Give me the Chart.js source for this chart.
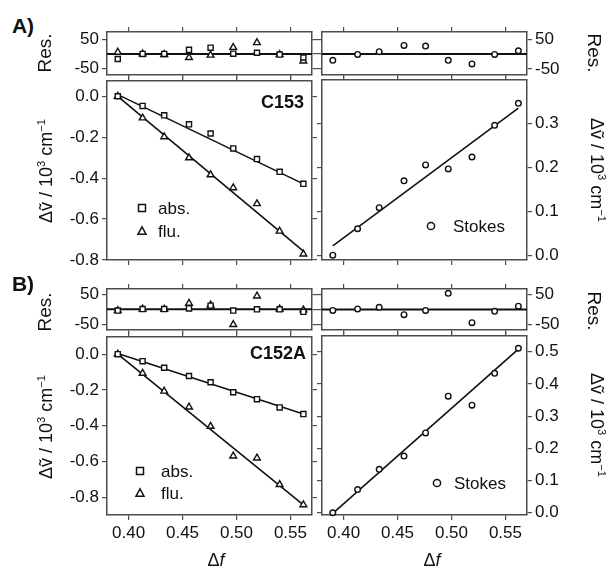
<!DOCTYPE html>
<html><head><meta charset="utf-8">
<script src="https://cdn.jsdelivr.net/npm/chart.js@4/dist/chart.umd.min.js"></script>
<style>
body{margin:0;background:#fff;}
#fig{position:relative;width:609px;height:568px;overflow:hidden;font-family:"Liberation Sans",Arial,Helvetica,sans-serif;color:#111;background:#fff;}
#fig canvas{position:absolute;}
.lbl{position:absolute;white-space:nowrap;line-height:1;}
.lbl sup{font-size:0.62em;vertical-align:0.6em;line-height:0;}
.mk{position:absolute;overflow:visible;}
</style></head>
<body><div id="fig"></div>
<script>
// ---------------- data ----------------
const deltaF = [0.390, 0.413, 0.433, 0.456, 0.476, 0.497, 0.519, 0.540, 0.562];

// Panel A (C153), 10^3 cm^-1
const absA    = [0.000, -0.047, -0.093, -0.137, -0.182, -0.255, -0.307, -0.369, -0.428];
const fluA    = [0.000, -0.106, -0.198, -0.301, -0.384, -0.447, -0.525, -0.659, -0.771];
const stokesA = [0.000, 0.060, 0.108, 0.169, 0.205, 0.196, 0.223, 0.295, 0.345];
const absFitA    = [0.008, -0.428];
const fluFitA    = [0.000, -0.757];
const stokesFitA = [0.021, 0.334];
// residuals A, cm^-1
const resAbsA    = [-17, 0, 0, 14, 21, 1, 4, -2, -12];
const resFluA    = [6, 0, -2, -12, -4, 22, 38, -2, -24];
const resStokesA = [-21, -1, 8, 29, 27, -21, -33, -1, 11];

// Panel B (C152A)
const absB    = [0.000, -0.039, -0.076, -0.122, -0.157, -0.213, -0.252, -0.298, -0.335];
const fluB    = [0.000, -0.107, -0.207, -0.296, -0.404, -0.570, -0.581, -0.730, -0.843];
const stokesB = [0.000, 0.072, 0.135, 0.176, 0.248, 0.362, 0.334, 0.433, 0.511];
const absFitB    = [0.004, -0.335];
const fluFitB    = [0.000, -0.844];
const stokesFitB = [-0.002, 0.508];
const resAbsB    = [-4, 1, 1, 3, 12, -4, 0, 0, -8];
const resFluB    = [-4, 1, 0, 20, 14, -50, 44, 1, -2];
const resStokesB = [-3, 2, 7, -17, -3, 53, -43, -6, 11];

// ticks
const xTicks       = [0.40, 0.45, 0.50, 0.55];
const resTicks     = [-50, 0, 50];
const leftTicks    = [0.0, -0.2, -0.4, -0.6, -0.8];
const rightTicksA  = [0.0, 0.1, 0.2, 0.3];
const rightTicksB  = [0.0, 0.1, 0.2, 0.3, 0.4, 0.5];

// axis ranges
const xRange      = [0.380, 0.570];
const resRangeA   = [-70, 74];
const resRangeB   = [-67, 67];
const leftRangeA  = [-0.8, 0.078];
const rightRangeA = [-0.011, 0.398];
const leftRangeB  = [-0.9, 0.1];
const rightRangeB = [-0.007, 0.549];

// ---------------- drawing ----------------
const fig = document.getElementById('fig');
const FRAME = '#4d4d4d', INK = '#111';
Chart.defaults.font.family = '"Liberation Sans", Arial, Helvetica, sans-serif';
Chart.defaults.color = INK;

const pts = ys => deltaF.map((x, i) => ({x, y: ys[i]}));
const fitLine = ends => [{x: deltaF[0], y: ends[0]}, {x: deltaF[deltaF.length - 1], y: ends[1]}];
const zeroLine = () => [{x: xRange[0], y: 0}, {x: xRange[1], y: 0}];

const STY = {
  square:   {pointStyle: 'rect', pointRadius: 3.6},
  triangle: {pointStyle: 'triangle', pointRadius: 3.9},
  circle:   {pointStyle: 'circle', pointRadius: 2.8}
};
function scatterDs(data, shape) {
  return Object.assign({data, showLine: false, borderColor: INK, backgroundColor: '#fff',
    pointBorderWidth: 1.4, pointHoverRadius: 0, clip: false, order: 1}, STY[shape]);
}
function lineDs(data, w) {
  return {data, showLine: true, borderColor: INK, borderWidth: w || 1.6, pointRadius: 0,
    pointHoverRadius: 0, clip: false, order: 2, fill: false};
}

function axis(pos, range, ticks, show, fmt, size) {
  const vertical = (pos === 'left' || pos === 'right');
  return {
    type: 'linear', position: pos, min: range[0], max: range[1], display: true,
    afterBuildTicks: s => { s.ticks = ticks.map(v => ({value: v})); },
    afterFit: s => {
      if (vertical) s.width = size; else s.height = size;
      s.paddingTop = 0; s.paddingBottom = 0; s.paddingLeft = 0; s.paddingRight = 0;
    },
    grid: {drawOnChartArea: false, drawTicks: true, tickLength: 5, color: FRAME, lineWidth: 1.2},
    border: {display: true, color: FRAME, width: 1.5},
    ticks: {display: show, color: INK, font: {size: 17}, padding: 3, maxRotation: 0,
      callback: v => fmt(v)}
  };
}
const fmt1 = v => v.toFixed(1);
const fmt2 = v => v.toFixed(2);
const fmtRes = v => (v === 0 ? '' : String(v));

function panel(p) {
  const {box, pad} = p;
  const c = document.createElement('canvas');
  const W = box.w + pad.l + pad.r, H = box.h + pad.t + pad.b;
  c.width = W; c.height = H;
  c.style.left = (box.l - pad.l) + 'px'; c.style.top = (box.t - pad.t) + 'px';
  c.style.width = W + 'px'; c.style.height = H + 'px';
  fig.appendChild(c);
  new Chart(c, {
    type: 'scatter',
    data: {datasets: p.datasets},
    options: {
      responsive: false, animation: false, events: [],
      layout: {padding: 0},
      plugins: {legend: {display: false}, tooltip: {enabled: false}},
      scales: {
        x:  axis('bottom', xRange, xTicks, !!p.xLabels, fmt2, pad.b),
        x2: axis('top', xRange, xTicks, false, fmt2, pad.t),
        y:  axis('left', p.yRange, p.yTicks, p.side === 'left', p.fmt, pad.l),
        y2: axis('right', p.yRange, p.yTicks, p.side === 'right', p.fmt, pad.r)
      }
    }
  });
}

const colL = {l: 107, w: 205}, colR = {l: 322, w: 205};
const rowResA = {t: 32, h: 43}, rowMainA = {t: 80, h: 180};
const rowResB = {t: 289, h: 41}, rowMainB = {t: 336, h: 179};
const padL = {l: 60, r: 10}, padR = {l: 10, r: 60};
const B = (c, r) => ({l: c.l, w: c.w, t: r.t, h: r.h});
const P = (pc, t, b) => ({l: pc.l, r: pc.r, t, b});

// Row A residuals
panel({box: B(colL, rowResA), pad: P(padL, 12, 5), side: 'left', yRange: resRangeA, yTicks: resTicks, fmt: fmtRes,
  datasets: [scatterDs(pts(resAbsA), 'square'), scatterDs(pts(resFluA), 'triangle'), lineDs(zeroLine(), 2)]});
panel({box: B(colR, rowResA), pad: P(padR, 12, 5), side: 'right', yRange: resRangeA, yTicks: resTicks, fmt: fmtRes,
  datasets: [scatterDs(pts(resStokesA), 'circle'), lineDs(zeroLine(), 2)]});
// Row A main
panel({box: B(colL, rowMainA), pad: P(padL, 5, 10), side: 'left', yRange: leftRangeA, yTicks: leftTicks, fmt: fmt1,
  datasets: [scatterDs(pts(absA), 'square'), scatterDs(pts(fluA), 'triangle'), lineDs(fitLine(absFitA)), lineDs(fitLine(fluFitA))]});
panel({box: B(colR, rowMainA), pad: P(padR, 5, 10), side: 'right', yRange: rightRangeA, yTicks: rightTicksA, fmt: fmt1,
  datasets: [scatterDs(pts(stokesA), 'circle'), lineDs(fitLine(stokesFitA))]});
// Row B residuals
panel({box: B(colL, rowResB), pad: P(padL, 10, 5), side: 'left', yRange: resRangeB, yTicks: resTicks, fmt: fmtRes,
  datasets: [scatterDs(pts(resAbsB), 'square'), scatterDs(pts(resFluB), 'triangle'), lineDs(zeroLine(), 2)]});
panel({box: B(colR, rowResB), pad: P(padR, 10, 5), side: 'right', yRange: resRangeB, yTicks: resTicks, fmt: fmtRes,
  datasets: [scatterDs(pts(resStokesB), 'circle'), lineDs(zeroLine(), 2)]});
// Row B main
panel({box: B(colL, rowMainB), pad: P(padL, 5, 40), side: 'left', yRange: leftRangeB, yTicks: leftTicks, fmt: fmt1, xLabels: true,
  datasets: [scatterDs(pts(absB), 'square'), scatterDs(pts(fluB), 'triangle'), lineDs(fitLine(absFitB)), lineDs(fitLine(fluFitB))]});
panel({box: B(colR, rowMainB), pad: P(padR, 5, 40), side: 'right', yRange: rightRangeB, yTicks: rightTicksB, fmt: fmt1, xLabels: true,
  datasets: [scatterDs(pts(stokesB), 'circle'), lineDs(fitLine(stokesFitB))]});

// ---------------- text ----------------
function label(html, x, y, o) {
  o = o || {};
  const d = document.createElement('div');
  d.className = 'lbl';
  d.innerHTML = html;
  d.style.fontSize = (o.size || 17) + 'px';
  if (o.bold) d.style.fontWeight = 'bold';
  const anchor = o.anchor || 'center';
  let tx = anchor === 'left' ? '0' : anchor === 'right' ? '-100%' : '-50%';
  d.style.left = x + 'px'; d.style.top = y + 'px';
  d.style.transform = `translate(${tx},-50%)` + (o.rot ? ` rotate(${o.rot}deg)` : '');
  fig.appendChild(d);
}
const YLAB = 'Δṽ / 10<sup>3</sup> cm<sup>−1</sup>';
label('A)', 23, 25, {size: 21, bold: true});
label('B)', 23, 283, {size: 21, bold: true});
label('Res.', 44, 53, {size: 19, rot: -90});
label('Res.', 44, 312, {size: 19, rot: -90});
label('Res.', 594, 53, {size: 19, rot: 90});
label('Res.', 594, 311, {size: 19, rot: 90});
label(YLAB, 46, 171, {size: 18, rot: -90});
label(YLAB, 46, 427, {size: 18, rot: -90});
label(YLAB, 597, 170, {size: 18, rot: 90});
label(YLAB, 597, 425, {size: 18, rot: 90});
label('C153', 304, 102, {size: 18, bold: true, anchor: 'right'});
label('C152A', 306, 353, {size: 18, bold: true, anchor: 'right'});
label('Δ<i>f</i>', 216, 560, {size: 18});
label('Δ<i>f</i>', 432, 560, {size: 18});

// legends
function marker(shape, cx, cy) {
  const ns = 'http://www.w3.org/2000/svg';
  const s = document.createElementNS(ns, 'svg');
  s.setAttribute('class', 'mk');
  s.setAttribute('width', 12); s.setAttribute('height', 12);
  s.style.left = (cx - 6) + 'px'; s.style.top = (cy - 6) + 'px';
  let el;
  if (shape === 'square') { el = document.createElementNS(ns, 'rect');
    el.setAttribute('x', 2.5); el.setAttribute('y', 2.5); el.setAttribute('width', 7); el.setAttribute('height', 7); }
  else if (shape === 'triangle') { el = document.createElementNS(ns, 'polygon');
    el.setAttribute('points', '6,1.8 10,9.2 2,9.2'); }
  else { el = document.createElementNS(ns, 'circle');
    el.setAttribute('cx', 6); el.setAttribute('cy', 6); el.setAttribute('r', 3.6); }
  el.setAttribute('fill', 'none'); el.setAttribute('stroke', INK); el.setAttribute('stroke-width', 1.5);
  s.appendChild(el); fig.appendChild(s);
}
marker('square', 142, 208);   label('abs.', 158, 208, {anchor: 'left'});
marker('triangle', 142, 231); label('flu.', 158, 231, {anchor: 'left'});
marker('circle', 431, 226);   label('Stokes', 453, 226, {anchor: 'left'});
marker('square', 140, 471);   label('abs.', 161, 471, {anchor: 'left'});
marker('triangle', 140, 493); label('flu.', 161, 493, {anchor: 'left'});
marker('circle', 437, 483);   label('Stokes', 454, 483, {anchor: 'left'});
</script>
</body></html>
